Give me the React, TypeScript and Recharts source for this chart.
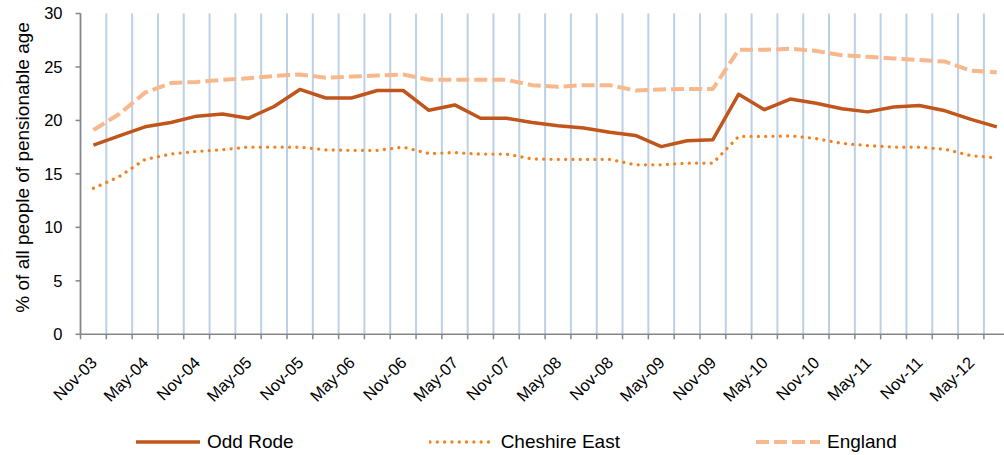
import React from 'react';
import { LineChart, Line, XAxis, YAxis, CartesianGrid } from 'recharts';

const CATEGORIES = [
  'Nov-03', 'Feb-04', 'May-04', 'Aug-04', 'Nov-04', 'Feb-05', 'May-05', 'Aug-05',
  'Nov-05', 'Feb-06', 'May-06', 'Aug-06', 'Nov-06', 'Feb-07', 'May-07', 'Aug-07',
  'Nov-07', 'Feb-08', 'May-08', 'Aug-08', 'Nov-08', 'Feb-09', 'May-09', 'Aug-09',
  'Nov-09', 'Feb-10', 'May-10', 'Aug-10', 'Nov-10', 'Feb-11', 'May-11', 'Aug-11',
  'Nov-11', 'Feb-12', 'May-12', 'Aug-12',
];

const ODD_RODE = [
  17.7, 18.55, 19.4, 19.8, 20.4, 20.6, 20.2, 21.3, 22.9, 22.1, 22.1, 22.8,
  22.8, 20.95, 21.45, 20.2, 20.2, 19.8, 19.5, 19.3, 18.9, 18.6, 17.55, 18.1,
  18.2, 22.45, 21.0, 22.0, 21.6, 21.1, 20.8, 21.25, 21.4, 20.9, 20.1, 19.4,
];

const CHESHIRE_EAST = [
  13.65, 14.75, 16.35, 16.85, 17.1, 17.25, 17.5, 17.5, 17.5, 17.25, 17.2, 17.2,
  17.5, 16.9, 17.0, 16.85, 16.85, 16.4, 16.35, 16.35, 16.35, 15.85, 15.85, 16.0,
  16.0, 18.5, 18.5, 18.55, 18.3, 17.85, 17.65, 17.5, 17.5, 17.3, 16.7, 16.5,
];

const ENGLAND = [
  19.1, 20.6, 22.6, 23.5, 23.6, 23.8, 23.95, 24.15, 24.3, 24.0, 24.1, 24.2,
  24.3, 23.8, 23.8, 23.8, 23.8, 23.3, 23.15, 23.3, 23.3, 22.8, 22.9, 22.95,
  22.95, 26.6, 26.6, 26.7, 26.5, 26.1, 25.95, 25.8, 25.65, 25.5, 24.65, 24.5,
];

const Y_TICKS = [0, 5, 10, 15, 20, 25, 30];
const Y_TITLE = '% of all people of pensionable age';

const SERIES = [
  { key: 'oddRode', name: 'Odd Rode', color: '#C0561B', width: 3.5, dash: undefined as string | undefined, cap: 'butt' },
  { key: 'cheshireEast', name: 'Cheshire East', color: '#F5821F', width: 3.3, dash: '0.01 7.3', cap: 'round' },
  { key: 'england', name: 'England', color: '#F9B88B', width: 4, dash: '13 5', cap: 'butt' },
];

const FONT = '"Liberation Sans", Arial, Helvetica, sans-serif';

const data = CATEGORIES.map((label, i) => ({
  x: i + 0.5,
  label,
  oddRode: ODD_RODE[i],
  cheshireEast: CHESHIRE_EAST[i],
  england: ENGLAND[i],
}));

const N = CATEGORIES.length;
const gridTicks = Array.from({ length: N + 1 }, (_, i) => i);
const labelTicks = data.filter((_, i) => i % 2 === 0).map((d) => d.x);

const EmptyTick = () => <g />;

const XLabelTick = (props: any) => {
  const { x, y, payload } = props;
  const idx = Math.floor(payload.value);
  return (
    <g transform={`translate(${x + 4.5},${y + 24.5})`}>
      <text
        textAnchor="end"
        transform="rotate(-45)"
        fontSize={16.5}
        fontFamily={FONT}
        fill="#000"
      >
        {CATEGORIES[idx]}
      </text>
    </g>
  );
};

const YTitle = (props: any) => {
  const vb = props.viewBox || { x: 0, y: 0, width: 0, height: 0 };
  const cx = 29;
  const cy = vb.y + vb.height / 2 - 6.5;
  return (
    <text
      x={cx}
      y={cy}
      transform={`rotate(-90, ${cx}, ${cy})`}
      textAnchor="middle"
      fontSize={19}
      fontFamily={FONT}
      fill="#000"
    >
      {Y_TITLE}
    </text>
  );
};

const verticalGen = (props: any) => {
  const xAxis = props && props.xAxis;
  if (xAxis && typeof xAxis.scale === 'function') {
    return gridTicks.map((t) => xAxis.scale(t));
  }
  const off = props.offset;
  return gridTicks.map((t) => off.left + (t * off.width) / N);
};

const LegendSwatch = ({ s }: { s: (typeof SERIES)[number] }) => (
  <svg width={66} height={10} style={{ display: 'block' }}>
    <line
      x1={1}
      y1={5}
      x2={65}
      y2={5}
      stroke={s.color}
      strokeWidth={s.width}
      strokeDasharray={s.dash}
      strokeLinecap={s.cap as any}
    />
  </svg>
);

export default function App() {
  return (
    <div
      style={{
        position: 'absolute',
        left: 0,
        top: 0,
        width: 1004,
        height: 455,
        overflow: 'hidden',
        background: '#fff',
        fontFamily: FONT,
      }}
    >
      <LineChart
        width={1020}
        height={455}
        data={data}
        margin={{ top: 13.5, right: 10.3, bottom: 65.7, left: 0 }}
      >
        <CartesianGrid
          xAxisId="grid"
          horizontal={false}
          vertical
          verticalCoordinatesGenerator={verticalGen}
          stroke="#BCD0E8"
          strokeWidth={2}
        />
        <XAxis
          xAxisId="grid"
          type="number"
          dataKey="x"
          domain={[0, N]}
          ticks={gridTicks}
          interval={0}
          height={5}
          tick={<EmptyTick />}
          tickSize={5}
          axisLine={{ stroke: '#868686', strokeWidth: 1.5 }}
          tickLine={{ stroke: '#868686', strokeWidth: 1.5 }}
          allowDataOverflow
        />
        <XAxis
          xAxisId="lab"
          type="number"
          dataKey="x"
          domain={[0, N]}
          ticks={labelTicks}
          interval={0}
          height={50}
          axisLine={false}
          tickLine={false}
          tickSize={0}
          tickMargin={0}
          tick={<XLabelTick />}
        />
        <YAxis
          type="number"
          domain={[0, 30]}
          ticks={Y_TICKS}
          interval={0}
          width={80.5}
          tickSize={5}
          tickMargin={13}
          axisLine={{ stroke: '#868686', strokeWidth: 1.5 }}
          tickLine={{ stroke: '#868686', strokeWidth: 1.5 }}
          tick={{ fontSize: 16.5, fill: '#000', fontFamily: FONT }}
          label={<YTitle />}
        />
        {SERIES.map((s) => (
          <Line
            key={s.key}
            xAxisId="grid"
            type="linear"
            dataKey={s.key}
            name={s.name}
            stroke={s.color}
            strokeWidth={s.width}
            strokeDasharray={s.dash}
            strokeLinecap={s.cap as any}
            strokeLinejoin="round"
            dot={false}
            activeDot={false}
            isAnimationActive={false}
          />
        ))}
      </LineChart>
      <div
        style={{
          position: 'absolute',
          left: 135,
          top: 431,
          display: 'flex',
          alignItems: 'center',
          gap: 135,
          fontSize: 19,
          color: '#000',
          whiteSpace: 'nowrap',
        }}
      >
        {SERIES.map((s) => (
          <div key={s.key} style={{ display: 'flex', alignItems: 'center', gap: 6 }}>
            <LegendSwatch s={s} />
            <span>{s.name}</span>
          </div>
        ))}
      </div>
    </div>
  );
}
